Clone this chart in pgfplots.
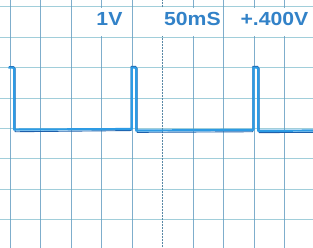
\documentclass[border=0pt]{standalone}
\usepackage{pgfplots}
\pgfplotsset{compat=1.18}
\usepackage{fontspec}
\setmainfont{Liberation Sans}
\newfontfamily\scopefont[FakeStretch=1.12]{Liberation Sans Bold}
\definecolor{vgrid}{RGB}{105,160,195}
\definecolor{hgrid}{RGB}{145,198,212}
\definecolor{trace}{RGB}{45,155,228}
\definecolor{tracedark}{RGB}{30,95,170}
\definecolor{lbl}{RGB}{50,130,200}
\begin{document}
\begin{tikzpicture}
\begin{axis}[width=313bp,height=248bp,scale only axis,
  xmin=-0.328,xmax=9.934,ymin=0.066,ymax=8.224,
  axis line style={draw=none},xtick=\empty,ytick=\empty,clip=true]
\pgfplotsinvokeforeach{0,1,2,3,4,5,6,7,8}{\draw[hgrid,line width=0.9bp,opacity=0.85] (axis cs:-1,#1) -- (axis cs:11,#1);}
\pgfplotsinvokeforeach{0,1,2,3,4,6,7,8,9}{\draw[vgrid,line width=0.9bp,opacity=0.85] (axis cs:#1,-1) -- (axis cs:#1,9);}
\addplot[vgrid!85!black,line width=1.2bp,dash pattern=on 2bp off 1bp] coordinates {(5,-1) (5,9)};
% trace (darker edge)
\addplot[tracedark,line width=0.9bp,line join=round] coordinates {
(-0.03,6.03) (0.12,6.03) (0.17,5.97) (0.17,3.89) (3.97,3.93) (3.97,6.04) (4.12,6.04) (4.17,5.97) (4.17,3.87)
(7.96,3.89) (7.96,6.04) (8.12,6.04) (8.17,5.97) (8.17,3.86) (9.95,3.87)};
% trace (bright)
\addplot[trace,line width=2.2bp,line join=round] coordinates {
(-0.05,6.0) (0.10,6.0) (0.14,5.95) (0.14,3.96) (3.99,3.98) (3.99,6.0) (4.10,6.0) (4.14,5.95) (4.14,3.93)
(7.98,3.95) (7.98,6.0) (8.10,6.0) (8.14,5.95) (8.14,3.92) (9.95,3.93)};
% label boxes
\fill[white] (axis cs:2.15,7.04) rectangle (axis cs:3.86,7.96);
\fill[white] (axis cs:4.12,7.04) rectangle (axis cs:6.93,7.96);
\fill[white] (axis cs:7.15,7.04) rectangle (axis cs:10.5,7.96);
\node[anchor=base,text=lbl,inner sep=0pt,font=\scopefont\fontsize{19}{20}\selectfont] at (axis cs:3.26,7.38) {1V};
\node[anchor=base,text=lbl,inner sep=0pt,font=\scopefont\fontsize{19}{20}\selectfont] at (axis cs:5.98,7.38) {50mS};
\node[anchor=base,text=lbl,inner sep=0pt,font=\scopefont\fontsize{19}{20}\selectfont] at (axis cs:8.67,7.38) {+.400V};
\end{axis}
\end{tikzpicture}
\end{document}
